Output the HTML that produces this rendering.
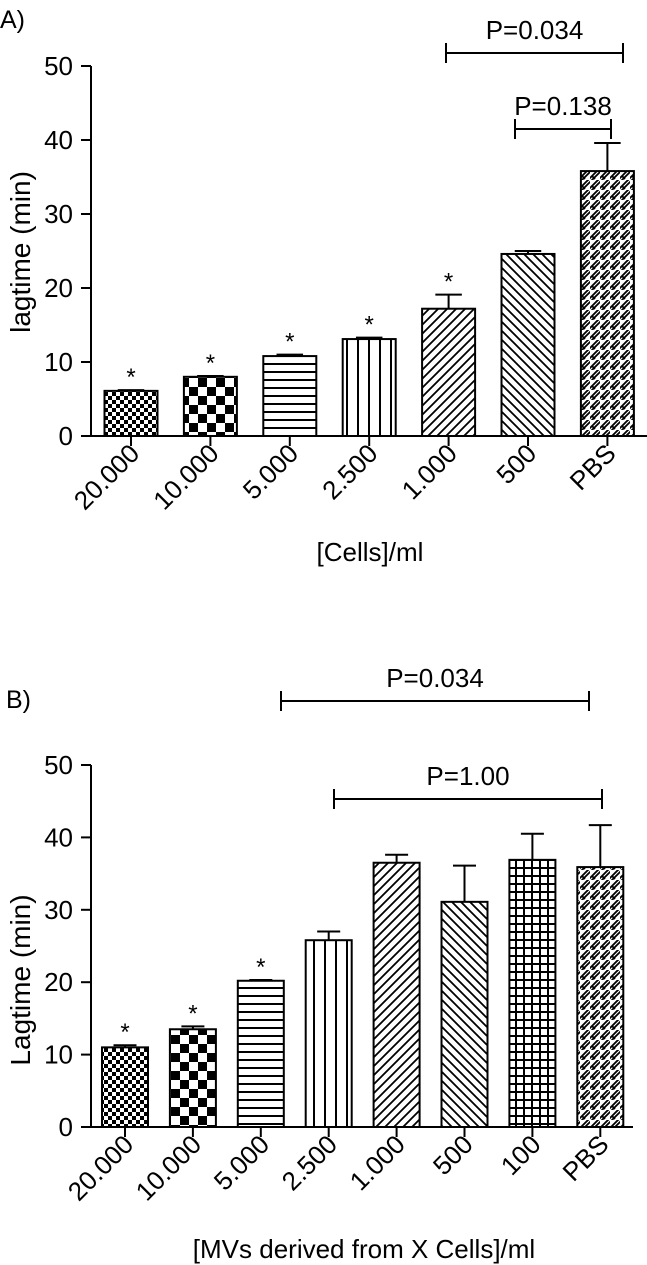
<!DOCTYPE html>
<html><head><meta charset="utf-8"><style>
html,body{margin:0;padding:0;background:#fff;}
svg{display:block;font-family:"Liberation Sans",Arial,sans-serif;}
</style></head><body>
<svg id="chart" width="647" height="1265" viewBox="0 0 647 1265" xmlns="http://www.w3.org/2000/svg">
<defs>
<pattern id="p0" width="8" height="8" patternUnits="userSpaceOnUse"><rect width="8" height="8" fill="#fff"/><rect width="4" height="4" fill="#000"/><rect x="4" y="4" width="4" height="4" fill="#000"/></pattern>
<pattern id="p1" width="18" height="18" patternUnits="userSpaceOnUse"><rect width="18" height="18" fill="#fff"/><rect width="9" height="9" fill="#000"/><rect x="9" y="9" width="9" height="9" fill="#000"/></pattern>
<pattern id="p2" width="10" height="8" patternUnits="userSpaceOnUse"><rect width="10" height="8" fill="#fff"/><rect y="3" width="10" height="2" fill="#000"/></pattern>
<pattern id="p3" width="11" height="10" patternUnits="userSpaceOnUse"><rect width="11" height="10" fill="#fff"/><rect x="5" width="2" height="10" fill="#000"/></pattern>
<pattern id="p4" width="9" height="9" patternUnits="userSpaceOnUse"><rect width="9" height="9" fill="#fff"/><path d="M-2,11 L11,-2 M-2,2 L2,-2 M7,11 L11,7" stroke="#000" stroke-width="1.8"/></pattern>
<pattern id="p5" width="9" height="9" patternUnits="userSpaceOnUse"><rect width="9" height="9" fill="#fff"/><path d="M-2,-2 L11,11 M7,-2 L11,2 M-2,7 L2,11" stroke="#000" stroke-width="1.8"/></pattern>
<pattern id="p6" width="10" height="10" patternUnits="userSpaceOnUse"><rect width="10" height="10" fill="#fff"/><path d="M-1,9 L9,-1 M1,11 L11,1 M2,6 L5,9" stroke="#000" stroke-width="1.8"/></pattern>
<pattern id="p7" width="8" height="8" patternUnits="userSpaceOnUse"><rect width="8" height="8" fill="#fff"/><rect x="3" width="2" height="8" fill="#000"/><rect y="3" width="8" height="2" fill="#000"/></pattern>
</defs>
<text x="0" y="28" font-size="25">A)</text>
<text x="6" y="708" font-size="25">B)</text>
<g id="ga"></g><g id="gb"></g>
</svg>
<script>
const catsA = ["20.000","10.000","5.000","2.500","1.000","500","PBS"];
const valsA = [6.1, 8.0, 10.8, 13.1, 17.2, 24.6, 35.8];
const errA = [6.2, 8.1, 11.0, 13.3, 19.1, 25.0, 39.6];
const starA = [true,true,true,true,true,false,false];
const patA = ["p0","p1","p2","p3","p4","p5","p6"];
const catsB = ["20.000","10.000","5.000","2.500","1.000","500","100","PBS"];
const valsB = [11.0, 13.5, 20.2, 25.8, 36.5, 31.1, 36.9, 35.9];
const errB = [11.3, 13.9, 20.3, 27.0, 37.6, 36.1, 40.5, 41.7];
const starB = [true,true,true,false,false,false,false,false];
const patB = ["p0","p1","p2","p3","p4","p5","p7","p6"];
const yTicks = [0,10,20,30,40,50];
const NS="http://www.w3.org/2000/svg";
function mk(parent,tag,attrs,text){const e=document.createElementNS(NS,tag);for(const k in attrs)e.setAttribute(k,attrs[k]);if(text!==undefined)e.textContent=text;parent.appendChild(e);return e;}
function panel(g,cfg){
  const y=v=>cfg.y0-(v/50)*(cfg.y0-cfg.y50);
  const x=i=>cfg.x0+cfg.pitch*i;
  let ax=mk(g,"line",{x1:cfg.ax,y1:y(50),x2:cfg.ax,y2:y(0),stroke:"#000","stroke-width":2});
  
  
  let bx=mk(g,"line",{x1:cfg.ax,y1:y(0),x2:cfg.axEnd,y2:y(0),stroke:"#000","stroke-width":2});
  
  
  yTicks.forEach(t=>{
    mk(g,"line",{x1:cfg.ax-10,y1:y(t),x2:cfg.ax,y2:y(t),stroke:"#000","stroke-width":2});
    let tl=mk(g,"text",{x:cfg.ax-18,y:y(t)+9,"font-size":26,"text-anchor":"end"},String(t));
    
    
  });
  cfg.cats.forEach((c,i)=>{
    const cx=x(i),w=cfg.bw;
    let b=mk(g,"rect",{x:cx-w/2,y:y(cfg.vals[i]),width:w,height:y(0)-y(cfg.vals[i]),fill:"url(#"+cfg.pat[i]+")",stroke:"#000","stroke-width":2});
    
    
    let e=mk(g,"path",{d:`M${cx},${y(cfg.vals[i])} V${y(cfg.err[i])} M${cx-w/4},${y(cfg.err[i])} H${cx+w/4}`,stroke:"#000","stroke-width":2,fill:"none"});
    
    
    mk(g,"line",{x1:cx,y1:y(0),x2:cx,y2:y(0)+10,stroke:"#000","stroke-width":2});
    let tl=mk(g,"text",{x:cx+10,y:y(0)+19,"font-size":26,"text-anchor":"end",transform:`rotate(-45 ${cx+10} ${y(0)+19})`},c);
    
    
    if(cfg.star[i]){
      let s=mk(g,"text",{x:cx,y:y(cfg.err[i])-5,"font-size":24,"text-anchor":"middle"},"*");
      
      
    }
  });
  cfg.brackets.forEach(br=>{
    let p=mk(g,"path",{d:`M${br.x1},${br.y-10} V${br.y+10} M${br.x1},${br.y} H${br.x2} M${br.x2},${br.y-10} V${br.y+10}`,stroke:"#000","stroke-width":2,fill:"none"});
    
    
    let t=mk(g,"text",{x:(br.x1+br.x2)/2,y:br.y-14,"font-size":26,"text-anchor":"middle"},br.t);
    
    
  });
  let yt=mk(g,"text",{x:cfg.ytx,y:cfg.yty,"font-size":28,"text-anchor":"middle",transform:`rotate(-90 ${cfg.ytx} ${cfg.yty})`},cfg.ytitle);
  
  
  let xt=mk(g,"text",{x:cfg.xtx,y:cfg.xty,"font-size":26,"text-anchor":"middle"},cfg.xtitle);
  
  
}
panel(document.getElementById("ga"),{y0:436,y50:66,ax:91,axEnd:647,x0:131,pitch:79.4,bw:53,cats:catsA,vals:valsA,err:errA,star:starA,pat:patA,
  brackets:[{x1:446,x2:623,y:53,t:"P=0.034"},{x1:515,x2:611,y:129,t:"P=0.138"}],
  ytitle:"lagtime (min)",ytx:30,yty:252,xtitle:"[Cells]/ml",xtx:370,xty:561});
panel(document.getElementById("gb"),{y0:1127,y50:765,ax:91,axEnd:633,x0:125,pitch:67.9,bw:46,cats:catsB,vals:valsB,err:errB,star:starB,pat:patB,
  brackets:[{x1:281,x2:589,y:701,t:"P=0.034"},{x1:334,x2:602,y:799,t:"P=1.00"}],
  ytitle:"Lagtime (min)",ytx:30,yty:980,xtitle:"[MVs derived from X Cells]/ml",xty:1258,xtx:364});
</script>
</body></html>
